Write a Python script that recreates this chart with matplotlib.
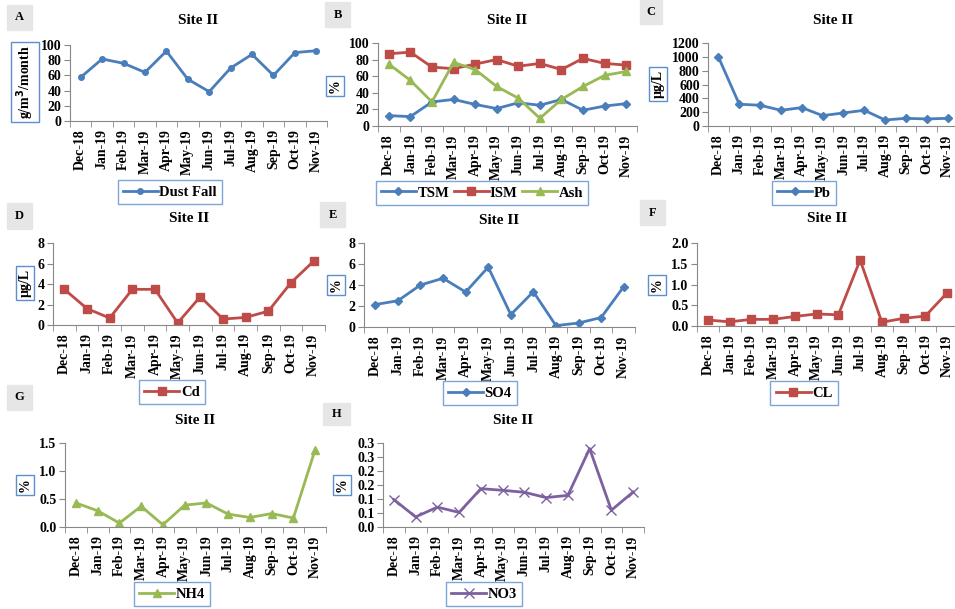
import numpy as np
import matplotlib
matplotlib.use("Agg")
import matplotlib.pyplot as plt

plt.rcParams['font.family'] = ['Liberation Serif', 'DejaVu Serif']
plt.rcParams['font.weight'] = 'bold'

# DATA
months = ["Dec-18", "Jan-19", "Feb-19", "Mar-19", "Apr-19", "May-19",
          "Jun-19", "Jul-19", "Aug-19", "Sep-19", "Oct-19", "Nov-19"]

dust_fall = [57.5, 81.6, 75.9, 64, 92, 55, 38.6, 69.7, 87.7, 60, 90, 92.5]
tsm = [12.5, 11.3, 29, 32, 26, 21, 28, 25, 32, 19, 24, 27]
ism = [87, 89, 71, 69, 74.6, 80, 72, 75.4, 68, 81.5, 75.4, 73.4]
ash = [74.6, 55, 29, 76.6, 68, 47.6, 33.5, 9.3, 32, 47.6, 61, 65.7]
pb = [997, 315, 300, 227, 266, 150, 189, 227, 87, 111, 102, 111]
cd = [3.48, 1.6, 0.68, 3.48, 3.48, 0.2, 2.77, 0.58, 0.74, 1.35, 4.13, 6.23]
so4 = [2.14, 2.5, 4.0, 4.64, 3.33, 5.7, 1.18, 3.36, 0.13, 0.38, 0.9, 3.84]
cl = [0.145, 0.1, 0.16, 0.16, 0.23, 0.29, 0.27, 1.59, 0.09, 0.185, 0.24, 0.8]
nh4 = [0.43, 0.29, 0.07, 0.37, 0.04, 0.39, 0.43, 0.23, 0.17, 0.24, 0.16, 1.38]
no3 = [0.098, 0.036, 0.071, 0.052, 0.137, 0.131, 0.124, 0.105, 0.113, 0.28, 0.06, 0.125]

no3_ticks = [0, 0.05, 0.1, 0.15, 0.2, 0.25, 0.3]
no3_labels = ["0.0", "0.1", "0.1", "0.2", "0.2", "0.3", "0.3"]

BLUE = '#4A7EBB'
RED = '#BE4B48'
GREEN = '#98B954'
PURPLE = '#7D60A0'
BOX = '#5B8FD0'

W, H = 955, 609
fig = plt.figure(figsize=(W / 100, H / 100), dpi=100)

#converts pixel box (left, top, right, bottom) into figure fractions
def px(l, t, r, b):
    return [l / W, 1 - b / H, (r - l) / W, (b - t) / H]

#draws the gray panel letter
def letter(x0, y0, x1, y1, s):
    fig.patches.append(plt.Rectangle((x0 / W, 1 - y1 / H), (x1 - x0) / W, (y1 - y0) / H,
                                     transform=fig.transFigure, color='#E6E6E6', zorder=0))
    fig.text((x0 + x1) / 2 / W, 1 - (y0 + y1) / 2 / H, s, ha='center', va='center',
             fontsize=9, fontweight='bold')

#draws one panel
def panel(box, series, ylim, yticks, ylab, ylabpos, title_y, legbox, letterbox, let, yticklabels=None):
    ax = fig.add_axes(px(*box))
    x = np.arange(len(months))
    handles = []
    for vals, col, mk, ms, name in series:
        if mk == 'x':
            h, = ax.plot(x, vals, color=col, lw=2, marker='x', ms=ms, mew=1, label=name)
        else:
            h, = ax.plot(x, vals, color=col, lw=2, marker=mk, ms=ms, label=name)
        handles.append(h)
    ax.set_xlim(-0.5, len(months) - 0.5)
    ax.set_ylim(*ylim)
    ax.set_yticks(yticks)
    if yticklabels is not None:
        ax.set_yticklabels(yticklabels)
    ax.set_xticks(x)
    ax.set_xticklabels(months, rotation=90)
    ax.set_xticks(np.arange(-0.5, len(months), 1), minor=True)
    ax.tick_params(axis='x', which='major', length=0, labelsize=10, pad=6)
    ax.tick_params(axis='x', which='minor', length=4, color='#888888')
    ax.tick_params(axis='y', length=4, color='#888888', labelsize=10, pad=2)
    for sp in ['top', 'right']:
        ax.spines[sp].set_visible(False)
    for sp in ['left', 'bottom']:
        ax.spines[sp].set_color('#888888')
    for lab in ax.get_xticklabels() + ax.get_yticklabels():
        lab.set_fontweight('bold')
    cx = (box[0] + box[2]) / 2
    fig.text(cx / W, 1 - title_y / H, "Site II", ha='center', va='center',
             fontsize=11, fontweight='bold')
    fig.text(ylabpos[0] / W, 1 - ylabpos[1] / H, ylab, rotation=90, ha='center', va='center',
             fontsize=10, fontweight='bold',
             bbox=dict(boxstyle='square,pad=0.2', fc='white', ec=BOX, lw=1))
    lx, ly = legbox
    leg = fig.legend(handles=handles, loc='center', bbox_to_anchor=(lx / W, 1 - ly / H),
                     ncol=len(handles), frameon=True, fancybox=False, fontsize=10.5,
                     handlelength=2.4, columnspacing=0.3, handletextpad=0.1,
                     borderpad=0.35, borderaxespad=0)
    leg.get_frame().set_edgecolor(BOX)
    leg.get_frame().set_linewidth(1)
    for t in leg.get_texts():
        t.set_fontweight('bold')
    letter(*letterbox, let)
    return ax

# row 1
panel((70, 45, 327, 121), [(dust_fall, BLUE, 'o', 4, 'Dust Fall')], (0, 100), range(0, 101, 20),
      "g/m$^3$/month", (25, 82), 21, (170, 192), (7, 5, 32, 30), 'A')
panel((378, 43, 637, 126), [(tsm, BLUE, 'D', 4, 'TSM'), (ism, RED, 's', 6, 'ISM'), (ash, GREEN, '^', 6, 'Ash')],
      (0, 100), range(0, 101, 20), "%", (335, 86), 20, (482, 193), (325, 2, 350, 27), 'B')
panel((708, 43, 958, 126), [(pb, BLUE, 'D', 4, 'Pb')], (0, 1200), range(0, 1201, 200),
      "µg/L", (658, 84), 20, (804, 193), (640, 0, 662, 24), 'C')

# row 2
panel((53, 243, 325, 325), [(cd, RED, 's', 6, 'Cd')], (0, 8), range(0, 9, 2),
      "µg/L", (25, 283), 218, (172, 392), (7, 203, 32, 229), 'D')
panel((364, 243, 635, 327), [(so4, BLUE, 'D', 4, 'SO4')], (0, 8), range(0, 9, 2),
      "%", (336, 285), 220, (480, 393), (320, 202, 345, 227), 'E')
panel((697, 243, 958, 326), [(cl, RED, 's', 6, 'CL')], (0, 2.0), [0, 0.5, 1.0, 1.5, 2.0],
      "%", (657, 285), 218, (804, 393), (640, 200, 665, 225), 'F',
      ["0.0", "0.5", "1.0", "1.5", "2.0"])

# row 3
panel((65, 443, 326, 527), [(nh4, GREEN, '^', 6, 'NH4')], (0, 1.5), [0, 0.5, 1.0, 1.5],
      "%", (25, 485), 420, (172, 594), (7, 385, 32, 410), 'G',
      ["0.0", "0.5", "1.0", "1.5"])
panel((383, 443, 644, 527), [(no3, PURPLE, 'x', 7, 'NO3')], (0, 0.3), no3_ticks,
      "%", (342, 485), 420, (484, 594), (323, 403, 350, 425), 'H', no3_labels)

fig.savefig("out.png", dpi=100)
